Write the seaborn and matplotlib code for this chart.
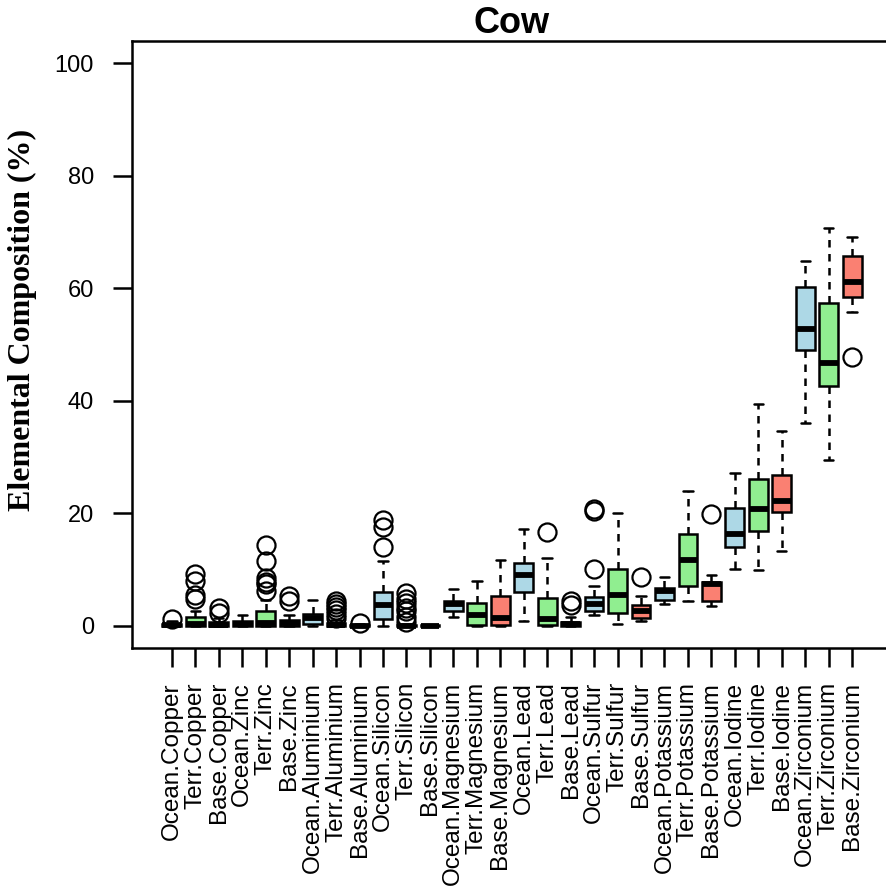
import matplotlib
matplotlib.use("Agg")
import matplotlib.pyplot as plt
import seaborn as sns

elements = ["Copper", "Zinc", "Aluminium", "Silicon", "Magnesium",
            "Lead", "Sulfur", "Potassium", "Iodine", "Zirconium"]
sources = ["Ocean", "Terr", "Base"]
labels = [f"{s}.{e}" for e in elements for s in sources]
source_colors = {"Ocean": "#ADD8E6", "Terr": "#90EE90", "Base": "#FA8072"}

whislo = [0, 0, 0, 0, 0, 0, 0, 0, 0, 0, 0, 0, 1.5, 0, 0,
          0.8, 0, 0, 1.9, 0.3, 0.8, 3.9, 4.4, 3.4, 10.1, 9.9, 13.2, 36.0, 29.4, 55.7]
q1 = [0, 0, 0, 0, 0, 0, 0.3, 0, 0, 1.1, 0, 0, 2.6, 0.1, 0.1,
      6.0, 0.1, 0, 2.5, 2.2, 1.3, 4.6, 7.0, 4.3, 13.9, 16.8, 20.2, 49.1, 42.7, 58.4]
med = [0.1, 0.2, 0.1, 0.3, 0.4, 0.5, 1.3, 0.1, 0, 3.7, 0, 0, 3.9, 1.8, 1.3,
       9.0, 1.2, 0.2, 3.8, 5.5, 2.5, 6.1, 11.7, 7.3, 16.2, 20.8, 22.2, 52.7, 46.7, 61.2]
q3 = [0.3, 1.6, 0.7, 0.8, 2.5, 0.9, 2.1, 0.5, 0.1, 6.0, 0.1, 0.05, 4.3, 4.0, 5.2,
      11.2, 4.9, 0.6, 5.0, 10.1, 3.6, 6.6, 16.3, 7.8, 20.9, 26.0, 26.7, 60.2, 57.3, 65.7]
whishi = [0.8, 2.6, 1.3, 1.8, 4.6, 1.8, 4.5, 1.0, 0.2, 11.4, 0.2, 0.1, 6.5, 8.0, 11.7,
          17.1, 12.0, 1.5, 7.0, 20.0, 5.3, 8.7, 23.9, 9.0, 27.1, 39.4, 34.6, 64.8, 70.8, 69.2]
fliers = [
    [1.2], [9.2, 7.9, 5.5, 4.8], [3.1, 2.3],
    [], [14.3, 11.4, 8.4, 7.8, 7.3, 6.2], [5.2, 4.4],
    [], [4.3, 3.8, 3.3, 2.7, 2.0, 1.4], [0.5],
    [18.7, 17.6, 13.9], [5.7, 4.8, 4.0, 3.2, 2.5, 1.5, 0.7], [],
    [], [], [],
    [], [16.7], [4.4, 3.6],
    [20.8, 20.4, 10.0], [], [8.6],
    [], [], [19.8],
    [], [], [],
    [], [], [47.7],
]
yticks = [0, 20, 40, 60, 80, 100]

sns.set_style("white")
plt.rcParams["font.family"] = ["Liberation Sans", "DejaVu Sans"]
plt.rcParams["text.color"] = "black"
plt.rcParams["axes.labelcolor"] = "black"
plt.rcParams["xtick.color"] = "black"
plt.rcParams["ytick.color"] = "black"

W, H = 886, 892
fig = plt.figure(figsize=(W / 100, H / 100), dpi=100)
ax = fig.add_axes([132 / W, (H - 648) / H, (892 - 132) / W, (648 - 41) / H])

stats = []
for i, lab in enumerate(labels):
    stats.append(dict(label=lab, whislo=whislo[i], q1=q1[i], med=med[i],
                      q3=q3[i], whishi=whishi[i], fliers=fliers[i]))

positions = list(range(1, len(labels) + 1))
bp = ax.bxp(stats, positions=positions, widths=0.8, capwidths=0.4,
            patch_artist=True, showfliers=True,
            boxprops=dict(edgecolor="black", linewidth=1.8),
            whiskerprops=dict(color="black", linewidth=1.8, linestyle=(0, (3.0, 2.6))),
            capprops=dict(color="black", linewidth=1.8),
            medianprops=dict(color="black", linewidth=4.2, solid_capstyle="butt"),
            flierprops=dict(marker="o", markerfacecolor="none", markeredgecolor="black",
                            markersize=13, markeredgewidth=1.6))
for patch, lab in zip(bp["boxes"], labels):
    patch.set_facecolor(source_colors[lab.split(".")[0]])

ax.set_xlim(-0.7, 31.7)
ax.set_ylim(-4, 104)
ax.set_xticks(positions)
ax.set_xticklabels(labels, rotation=90, fontsize=17.5, va="top", ha="center")
ax.set_yticks(yticks)
ax.set_yticklabels([str(t) for t in yticks], fontsize=17)
ax.tick_params(axis="x", direction="out", length=13.5, width=1.8, pad=11, bottom=True,
               colors="black")
ax.tick_params(axis="y", direction="out", length=13.5, width=1.8, pad=14, left=True,
               colors="black")
for sp in ax.spines.values():
    sp.set_linewidth(1.8)
    sp.set_color("black")
    sp.set_visible(True)

ax.set_title("Cow", fontsize=26, fontweight="bold", pad=6, color="black")
fig.text(22 / W, 1 - 320 / H, "Elemental Composition (%)", rotation=90,
         ha="center", va="center", fontsize=23, fontweight="bold", color="black",
         family=["Liberation Serif", "DejaVu Serif"])

fig.savefig("out.png", dpi=100)
